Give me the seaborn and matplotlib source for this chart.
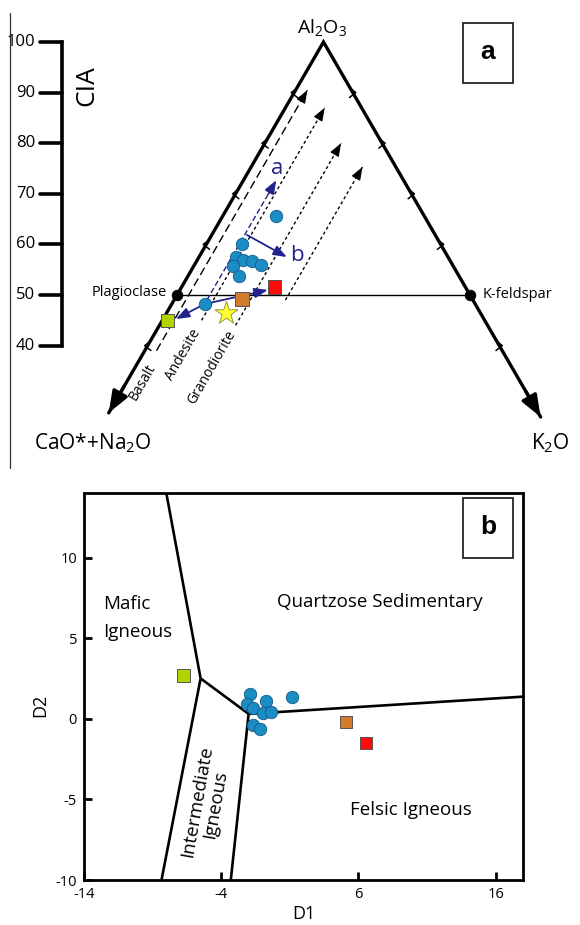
import numpy as np
import pandas as pd
import matplotlib
matplotlib.use("Agg")
import matplotlib.pyplot as plt
from matplotlib.patches import Rectangle
from matplotlib.lines import Line2D
import seaborn as sns

# ---------------- Panel a: A-CN-K molar proportions ----------------
# Al2O3 fraction (= CIA / 100) and K2O fraction of each sample
smp_al2o3 = [0.656, 0.601, 0.575, 0.569, 0.567, 0.560, 0.558, 0.538, 0.482]
smp_k2o = [0.091, 0.061, 0.063, 0.079, 0.094, 0.113, 0.067, 0.086, 0.056]

# reference compositions (squares) and the star
ref_al2o3 = [0.449, 0.492, 0.516]
ref_k2o = [0.010, 0.115, 0.159]
ref_colors = ["#b0d400", "#d27b2c", "#ff0a0a"]
star_al2o3 = [0.464]
star_k2o = [0.101]

# CIA scale
cia_ticks = [100, 90, 80, 70, 60, 50, 40]

# feldspar end-members
mineral_names = ["Plagioclase", "K-feldspar"]
mineral_al2o3 = [0.5, 0.5]
mineral_k2o = [0.0, 0.5]

# ideal weathering trends of fresh rocks (constant K2O fraction)
trend_names = ["Basalt", "Andesite", "Granodiorite", ""]
trend_k2o = [0.020, 0.067, 0.130, 0.190]
trend_from = [0.39, 0.45, 0.44, 0.49]
trend_to = [0.905, 0.87, 0.80, 0.753]

# ---------------- Panel b: discriminant function scores ----------------
smp_d1 = [-1.90, -2.10, -1.70, -0.73, -0.93, -0.39, -1.66, -1.17, 1.14]
smp_d2 = [1.53, 0.89, 0.64, 1.10, 0.37, 0.43, -0.39, -0.66, 1.37]
ref_d1 = [-6.76, 5.10, 6.55]
ref_d2 = [2.67, -0.19, -1.49]

# field boundaries (D1 pairs, D2 pairs)
bound_d1 = [[-8.0, -5.5], [-5.5, -8.35], [-5.5, -2.0], [-2.0, -3.3], [-2.0, 18.0]]
bound_d2 = [[14.0, 2.5], [2.5, -10.0], [2.5, 0.3], [0.3, -10.0], [0.3, 1.37]]

d1_ticks = [-14, -4, 6, 16]
d2_ticks = [-10, -5, 0, 5, 10]

# ---------------------------------------------------------------------
sns.set_theme(style="white")
FONT = ["Open Sans", "DejaVu Sans"]
plt.rcParams["font.family"] = FONT
plt.rcParams.update({
    "text.color": "black",
    "axes.labelcolor": "black",
    "xtick.color": "black",
    "ytick.color": "black",
    "mathtext.fontset": "custom",
    "mathtext.rm": "Open Sans",
    "mathtext.it": "Open Sans:italic",
    "mathtext.bf": "Open Sans:bold",
})

W, H = 580, 925
fig = plt.figure(figsize=(W / 100, H / 100), dpi=100)
fig.patch.set_facecolor("white")


def fpx(x, y):
    """pixel position -> figure fraction"""
    return x / W, 1 - y / H


def tern(al, k):
    """ternary (Al2O3, K2O) -> cartesian, apex Al2O3 at top"""
    al = np.asarray(al, dtype=float)
    k = np.asarray(k, dtype=float)
    return k + al / 2, al


BLUE = "#1b8dc4"
BLUE_EDGE = "#105a86"
NAVY = "#22228c"

# ============================ panel a =================================
ax_t = fig.add_axes([0, 1 - 470 / H, 1, 470 / H])
ax_t.axis("off")

# triangle edges
apex = tern(1.0, 0.0)
ltip = tern(0.267, 0.0)
rtip = tern(0.259, 0.741)
ax_t.plot([ltip[0], apex[0], rtip[0]], [ltip[1], apex[1], rtip[1]],
          color="black", lw=2.4, solid_joinstyle="miter", zorder=3)
for tip, back in [(ltip, tern(0.32, 0.0)), (rtip, tern(0.31, 0.69))]:
    ax_t.annotate("", xy=(float(tip[0]), float(tip[1])),
                  xytext=(float(back[0]), float(back[1])),
                  arrowprops=dict(arrowstyle="-|>,head_length=0.65,head_width=0.25",
                                  mutation_scale=20, lw=2.4, color="black",
                                  shrinkA=0, shrinkB=0), zorder=3)

# chevrons on the two edges
sx, sy = 1 / 586, 1 / 506
arm = 8
ca, sa = np.cos(np.radians(38)) * arm, np.sin(np.radians(38)) * arm
for a in [0.9, 0.8, 0.7, 0.6, 0.4]:
    x0, y0 = tern(a, 0.0)
    x0 = float(x0) - 3 * sx
    ax_t.plot([x0 + ca * sx, x0, x0 + ca * sx], [y0 + sa * sy, y0, y0 - sa * sy],
              color="black", lw=1.1, zorder=3)
    x1, y1 = tern(a, 1 - a)
    x1 = float(x1) + 3 * sx
    ax_t.plot([x1 - ca * sx, x1, x1 - ca * sx], [y1 + sa * sy, y1, y1 - sa * sy],
              color="black", lw=1.1, zorder=3)

# feldspar join
mx, my = tern(mineral_al2o3, mineral_k2o)
ax_t.plot(mx, my, color="black", lw=1.0, zorder=2)
sns.scatterplot(x=mx, y=my, ax=ax_t, color="black", s=60, edgecolor="black",
                linewidth=0.5, zorder=5, legend=False)
ax_t.text(mx[0] - 0.017, my[0] + 0.004, mineral_names[0], ha="right", va="center",
          fontsize=10.5)
ax_t.text(mx[1] + 0.022, my[1] + 0.002, mineral_names[1], ha="left", va="center",
          fontsize=10.5)

# weathering trends
trend_styles = [(0, (6, 3)), (0, (2.2, 2)), (0, (2.2, 2)), (0, (2.2, 2))]
for name, k, a0, a1, ls in zip(trend_names, trend_k2o, trend_from, trend_to,
                               trend_styles):
    xs, ys = tern([a0, a1], [k, k])
    ax_t.plot(xs, ys, color="black", lw=1.0, linestyle=ls, zorder=2)
    hx, hy = tern([a1 - 0.018, a1], [k, k])
    ax_t.annotate("", xy=(float(hx[1]), float(hy[1])), xytext=(float(hx[0]), float(hy[0])),
                  arrowprops=dict(arrowstyle="-|>,head_length=0.8,head_width=0.3",
                                  mutation_scale=10, lw=0.8, color="black",
                                  shrinkA=0, shrinkB=0), zorder=2)

label_pos = [(142, 382), (183, 355), (212, 367)]
for name, (px, py) in zip(trend_names[:3], label_pos):
    ax_t.text((px - 323.5) / 586 + 0.5, (548 - py) / 506, name, rotation=60,
              rotation_mode="anchor", ha="center", va="center", fontsize=10)

# trend arrows "a" and "b"
ax_t.plot(*tern([0.49, 0.715], [0.056, 0.056]), color=NAVY, lw=1.0,
          linestyle=(0, (4, 2)), zorder=2)
for (a0, k0), (a1, k1) in [((0.70, 0.056), (0.727, 0.056)),
                           ((0.6186, 0.0602), (0.575, 0.150)),
                           ((0.482, 0.0558), (0.4526, 0.022)),
                           ((0.482, 0.0558), (0.510, 0.150))]:
    p0 = tern(a0, k0)
    p1 = tern(a1, k1)
    ax_t.annotate("", xy=(float(p1[0]), float(p1[1])), xytext=(float(p0[0]), float(p0[1])),
                  arrowprops=dict(arrowstyle="-|>,head_length=0.8,head_width=0.3",
                                  mutation_scale=10, lw=1.3, color=NAVY,
                                  shrinkA=0, shrinkB=0), zorder=4)
ax_t.text(0.4207, 0.751, "a", color=NAVY, fontsize=16, ha="center", va="center")
ax_t.text(0.455, 0.578, "b", color=NAVY, fontsize=16, ha="center", va="center")

# samples and references
sx_, sy_ = tern(smp_al2o3, smp_k2o)
sns.scatterplot(x=sx_, y=sy_, ax=ax_t, color=BLUE, edgecolor=BLUE_EDGE, s=80,
                linewidth=0.6, zorder=6, legend=False)
rx, ry = tern(ref_al2o3, ref_k2o)
sns.scatterplot(x=rx, y=ry, ax=ax_t, hue=ref_colors, palette=dict(zip(ref_colors, ref_colors)),
                marker="s", s=90, edgecolor="#555555", linewidth=0.7, zorder=6, legend=False)
stx, sty = tern(star_al2o3, star_k2o)
sns.scatterplot(x=stx, y=sty, ax=ax_t, marker="*", color="#ffff33", edgecolor="#8a8a20",
                s=300, linewidth=0.6, zorder=6, legend=False)

# CIA scale on the left
cx, cl = 0.0538, 0.0162
ax_t.plot([cx, cx], [cia_ticks[0] / 100, cia_ticks[-1] / 100], color="black", lw=2.6,
          solid_capstyle="projecting")
for c in cia_ticks:
    ax_t.plot([cl, cx], [c / 100, c / 100], color="black", lw=2.6)
    ax_t.text(cl - 0.0085, c / 100, str(c), ha="right", va="center", fontsize=12)

ax_t.set_xlim(-0.0520, 0.9377)
ax_t.set_ylim(0.1542, 1.083)

fig.text(*fpx(87, 86), "CIA", rotation=90, ha="center", va="center", fontsize=19)
fig.text(*fpx(322, 28), r"Al$_\mathregular{2}$O$_\mathregular{3}$", ha="center",
         va="center", fontsize=14)
fig.text(*fpx(93, 443), r"CaO*+Na$_\mathregular{2}$O", ha="center", va="center",
         fontsize=15)
fig.text(*fpx(550, 443), r"K$_\mathregular{2}$O", ha="center", va="center", fontsize=15)
fig.add_artist(Line2D([9.5 / W] * 2, [1 - 13 / H, 1 - 468 / H], lw=0.9, color="#333333"))

# panel tags
for (x0, y0), tag in [((463, 23), "a"), ((463, 498), "b")]:
    fx, fy = fpx(x0, y0 + 60)
    fig.add_artist(Rectangle((fx, fy), 50 / W, 60 / H, transform=fig.transFigure,
                             fill=False, edgecolor="#333333", lw=1.4))
    fig.text(*fpx(x0 + 25, y0 + 29), tag, ha="center", va="center", fontsize=19,
             fontweight="bold", family=["Liberation Sans", "DejaVu Sans"])

# ============================ panel b =================================
ax_b = fig.add_axes([84 / W, 1 - 880 / H, (523 - 84) / W, (880 - 493) / H])
for xs, ys in zip(bound_d1, bound_d2):
    ax_b.plot(xs, ys, color="black", lw=1.9, solid_capstyle="butt", zorder=2)

sns.scatterplot(x=smp_d1, y=smp_d2, ax=ax_b, color=BLUE, edgecolor=BLUE_EDGE, s=80,
                linewidth=0.6, zorder=5, legend=False)
sns.scatterplot(x=ref_d1, y=ref_d2, ax=ax_b, hue=ref_colors,
                palette=dict(zip(ref_colors, ref_colors)), marker="s", s=80,
                edgecolor="#555555", linewidth=0.7, zorder=5, legend=False)

ax_b.set_xlim(-14, 18)
ax_b.set_ylim(-10, 14)
ax_b.set_xticks(d1_ticks)
ax_b.set_yticks(d2_ticks)
ax_b.set_xticklabels([str(t) for t in d1_ticks])
ax_b.set_yticklabels([str(t) for t in d2_ticks])
ax_b.tick_params(direction="in", length=6, width=2, labelsize=10.5, color="black",
                 labelcolor="black", left=True, bottom=True, pad=5)
for sp in ax_b.spines.values():
    sp.set_linewidth(2.0)
    sp.set_color("black")
ax_b.set_xlabel("D1", fontsize=13, labelpad=2)
ax_b.set_ylabel("D2", fontsize=13)
ax_b.yaxis.set_label_coords(-0.08, 0.45)
ax_b.grid(False)

REG = 13.5
ax_b.text(-12.6, 7.1, "Mafic", fontsize=REG, ha="left", va="center")
ax_b.text(-12.6, 5.4, "Igneous", fontsize=REG, ha="left", va="center")
ax_b.text(0.1, 7.25, "Quartzose Sedimentary", fontsize=REG, ha="left", va="center")
ax_b.text(9.8, -5.65, "Felsic Igneous", fontsize=REG, ha="center", va="center")
ax_b.text(-5.1, -5.2, "Intermediate\nIgneous", fontsize=REG, ha="center", va="center",
          rotation=80, multialignment="center", linespacing=1.0)

fig.savefig("out.png", dpi=100, facecolor="white")
